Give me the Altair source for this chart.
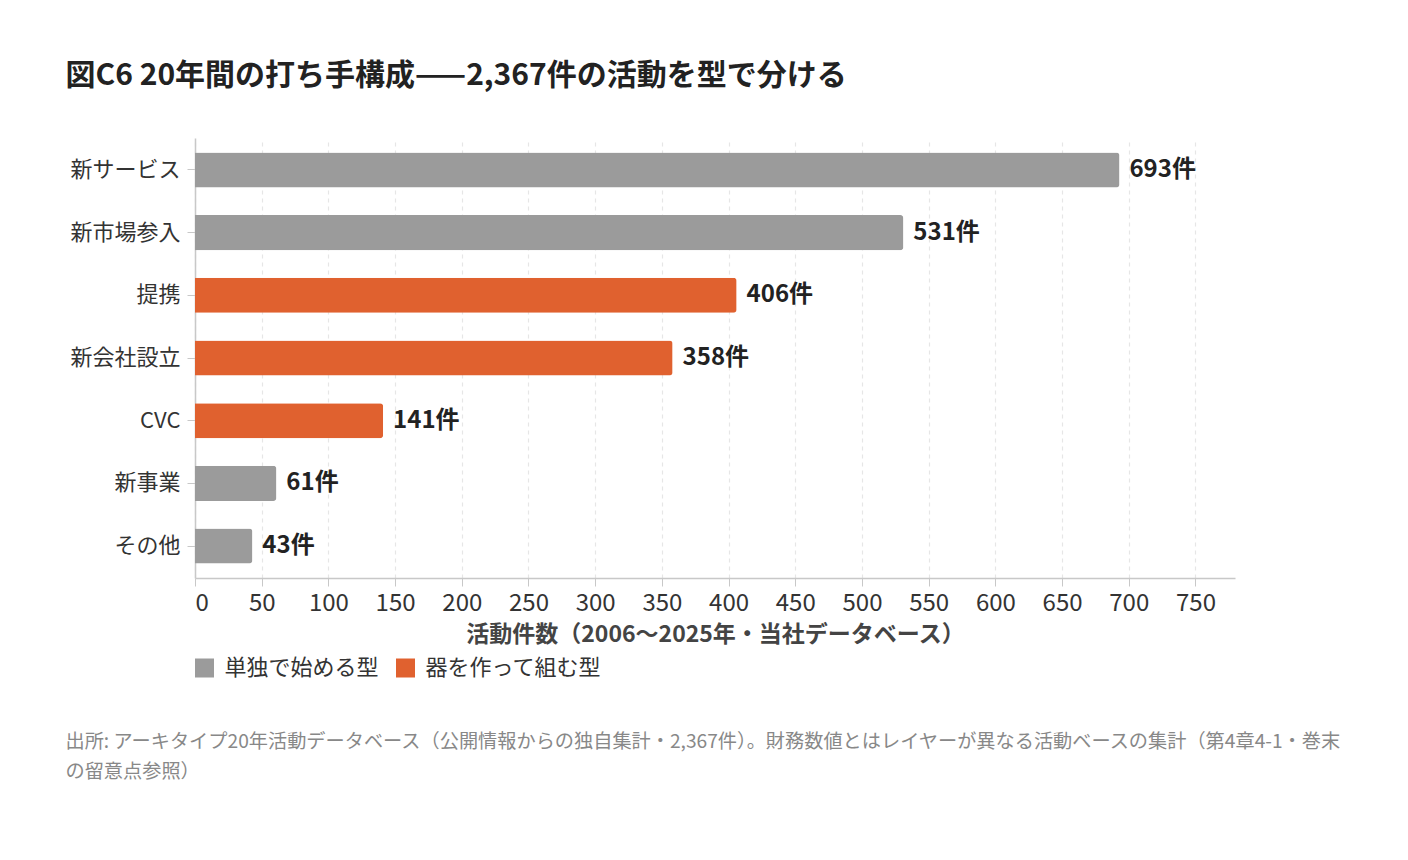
import altair as alt
import pandas as pd

categories = ["新サービス", "新市場参入", "提携", "新会社設立", "CVC", "新事業", "その他"]
counts = [693, 531, 406, 358, 141, 61, 43]
groups = ["単独で始める型", "単独で始める型", "器を作って組む型", "器を作って組む型",
          "器を作って組む型", "単独で始める型", "単独で始める型"]
group_order = ["単独で始める型", "器を作って組む型"]
colors = ["#9b9b9b", "#e0612f"]
x_ticks = [0, 50, 100, 150, 200, 250, 300, 350, 400, 450, 500, 550, 600, 650, 700, 750]
x_max = 779.625
title_text = "図C6 20年間の打ち手構成——2,367件の活動を型で分ける"
x_title = "活動件数（2006〜2025年・当社データベース）"
footer_lines = [
    "出所: アーキタイプ20年活動データベース（公開情報からの独自集計・2,367件）。財務数値とはレイヤーが異なる活動ベースの集計（第4章4-1・巻末",
    "の留意点参照）",
]

df = pd.DataFrame({"category": categories, "count": counts, "group": groups})
df["label"] = [f"{c}件" for c in counts]

FONT = "Noto Sans CJK JP"

y_enc = alt.Y(
    "category:N",
    sort=categories,
    scale=alt.Scale(paddingInner=0.44, paddingOuter=0.23),
    axis=alt.Axis(
        title=None,
        labelFontSize=22,
        labelColor="#333333",
        labelFont=FONT,
        tickSize=8,
        tickColor="#c8c8c8",
        domainColor="#c8c8c8",
        domainWidth=1.5,
        labelPadding=7,
        grid=False,
    ),
)
x_enc = alt.X(
    "count:Q",
    scale=alt.Scale(domain=[0, x_max], nice=False, zero=True),
    axis=alt.Axis(
        values=x_ticks,
        title=x_title,
        labelFontSize=24,
        labelColor="#333333",
        labelFont=FONT,
        tickSize=8,
        tickColor="#c8c8c8",
        domainColor="#c8c8c8",
        domainWidth=1.5,
        labelPadding=5,
        titleFont=FONT,
        titleFontSize=23,
        titleFontWeight="bold",
        titleColor="#444444",
        titlePadding=8,
        grid=True,
        gridDash=[4, 4],
        gridColor="#e6e6e6",
        gridWidth=1.2,
    ),
)

base = alt.Chart(df)
bars = base.mark_bar(cornerRadiusEnd=3).encode(
    y=y_enc,
    x=x_enc,
    color=alt.Color(
        "group:N",
        scale=alt.Scale(domain=group_order, range=colors),
        legend=alt.Legend(
            title=None,
            orient="none",
            direction="horizontal",
            legendX=-1.5,
            legendY=519,
            symbolType="square",
            symbolSize=361,
            symbolStrokeWidth=0,
            symbolOpacity=1,
            labelFontSize=22,
            labelFont=FONT,
            labelColor="#333333",
            labelOffset=9,
            labelLimit=0,
            columnPadding=15,
            padding=0,
        ),
    ),
)
labels = base.mark_text(
    align="left", baseline="middle", dx=10, fontSize=24, fontWeight="bold",
    color="#222222", font=FONT,
).encode(
    y=alt.Y("category:N", sort=categories),
    x=alt.X("count:Q"),
    text="label:N",
)
footer = alt.Chart(pd.DataFrame({"k": [0]})).mark_text(
    text=footer_lines, align="left", baseline="top", fontSize=19.2, lineHeight=30,
    color="#888888", font=FONT,
).encode(x=alt.value(-129.5), y=alt.value(595))

chart = alt.layer(bars, labels, footer).properties(
    width=1040,
    height=440,
    padding={"left": 57, "top": 53, "right": 5, "bottom": 5},
    title=alt.TitleParams(
        title_text, anchor="start", frame="bounds", fontSize=30, fontWeight="bold",
        color="#222222", font=FONT, offset=47,
    ),
).configure_view(stroke=None)

chart.save("out.html", embed_options={"renderer": "svg", "actions": False})
